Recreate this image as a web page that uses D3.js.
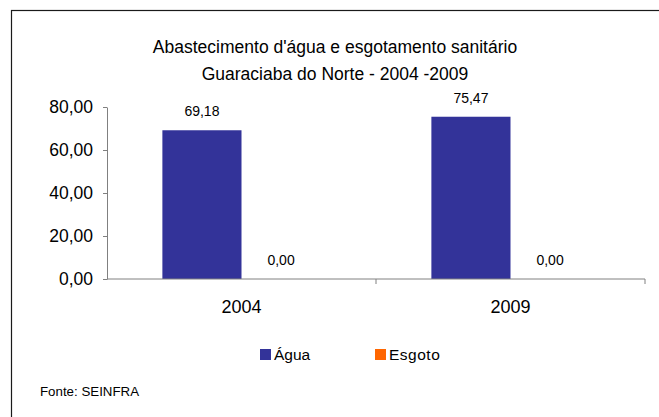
<!DOCTYPE html>
<html>
<head>
<meta charset="utf-8">
<script src="https://cdn.jsdelivr.net/npm/d3@7"></script>
<style>
  body { margin: 0; background: #fff; }
  svg text { font-family: "Liberation Sans", Arial, sans-serif; fill: #000; }
</style>
</head>
<body>
<svg id="chart"></svg>
<script>
// data
var years = ["2004", "2009"];
var series = ["Água", "Esgoto"];
var agua = [69.18, 75.47];
var esgoto = [0, 0];
var yTicks = [0, 20, 40, 60, 80];
var titleLines = ["Abastecimento d'água e esgotamento sanitário", "Guaraciaba do Norte - 2004 -2009"];
var source = "Fonte: SEINFRA";

var colors = { "Água": "#333399", "Esgoto": "#ff6600" };
var width = 659, height = 417;
var fmt = function(v) { return d3.format(".2f")(v).replace(".", ","); };

var rows = years.map(function(y, i) {
  return { year: y, values: [ { key: "Água", value: agua[i] }, { key: "Esgoto", value: esgoto[i] } ] };
});

var svg = d3.select("#chart")
    .attr("width", width)
    .attr("height", height);

// outer frame (only top and left edges visible in the crop)
svg.append("rect")
    .attr("x", 11.5)
    .attr("y", 10.5)
    .attr("width", 700)
    .attr("height", 500)
    .attr("fill", "none")
    .attr("stroke", "#1a1a1a")
    .attr("stroke-width", 1.2);

svg.selectAll(".title")
    .data(titleLines)
  .enter().append("text")
    .attr("class", "title")
    .attr("x", 335)
    .attr("y", (d, i) => 53 + i * 27)
    .attr("font-size", "17.5px")
    .style("text-anchor", "middle")
    .text(d => d);

var x0 = d3.scaleBand()
    .domain(years)
    .range([107, 645]);

var x1 = d3.scaleBand()
    .domain(series)
    .range([0, x0.bandwidth()])
    .paddingInner(0)
    .paddingOuter(0.7);

var y = d3.scaleLinear()
    .domain([0, 80])
    .range([279, 107]);

// y axis
var yAxis = svg.append("g")
    .attr("transform", "translate(107,0)")
    .call(d3.axisLeft(y).tickValues(yTicks).tickSize(4).tickSizeOuter(0).tickFormat(fmt));
yAxis.select(".domain").attr("stroke", "#808080");
yAxis.selectAll(".tick line").attr("stroke", "#808080");
yAxis.selectAll(".tick text")
    .attr("x", -14)
    .attr("font-size", "17.5px")
    .attr("font-family", "Liberation Sans, Arial, sans-serif");

// bars
var groups = svg.selectAll(".year")
    .data(rows)
  .enter().append("g")
    .attr("class", "year")
    .attr("transform", d => "translate(" + x0(d.year) + ",0)");

groups.selectAll("rect")
    .data(d => d.values)
  .enter().append("rect")
    .attr("x", d => x1(d.key))
    .attr("y", d => y(d.value))
    .attr("width", x1.bandwidth())
    .attr("height", d => y(0) - y(d.value))
    .attr("fill", d => colors[d.key]);

groups.selectAll(".label")
    .data(d => d.values)
  .enter().append("text")
    .attr("class", "label")
    .attr("x", d => x1(d.key) + x1.bandwidth() / 2)
    .attr("y", d => y(d.value) - 14)
    .attr("font-size", "14px")
    .style("text-anchor", "middle")
    .text(d => fmt(d.value));

// x axis
var xAxis = svg.append("g")
    .attr("transform", "translate(0,279)");
xAxis.append("line")
    .attr("x1", x0.range()[0])
    .attr("x2", x0.range()[1])
    .attr("stroke", "#808080");
xAxis.selectAll(".xtick")
    .data(years.slice(1).map(d => x0(d)).concat([x0.range()[1]]))
  .enter().append("line")
    .attr("x1", d => d)
    .attr("x2", d => d)
    .attr("y1", 0)
    .attr("y2", 5)
    .attr("stroke", "#808080");
xAxis.selectAll(".xlabel")
    .data(years)
  .enter().append("text")
    .attr("x", d => x0(d) + x0.bandwidth() / 2)
    .attr("y", 34)
    .attr("font-size", "18px")
    .style("text-anchor", "middle")
    .text(d => d);

// legend
var legendX = [260, 375];
var legend = svg.selectAll(".legend")
    .data(series)
  .enter().append("g")
    .attr("class", "legend")
    .attr("transform", (d, i) => "translate(" + legendX[i] + ",349)");
legend.append("rect")
    .attr("width", 11)
    .attr("height", 11)
    .attr("fill", d => colors[d]);
legend.append("text")
    .attr("x", 14)
    .attr("y", 10.5)
    .attr("font-size", "15.5px")
    .attr("letter-spacing", (d, i) => i === 1 ? "0.5px" : "0px")
    .text(d => d);

svg.append("text")
    .attr("x", 40)
    .attr("y", 396)
    .attr("font-size", "13.3px")
    .text(source);
</script>
</body>
</html>
